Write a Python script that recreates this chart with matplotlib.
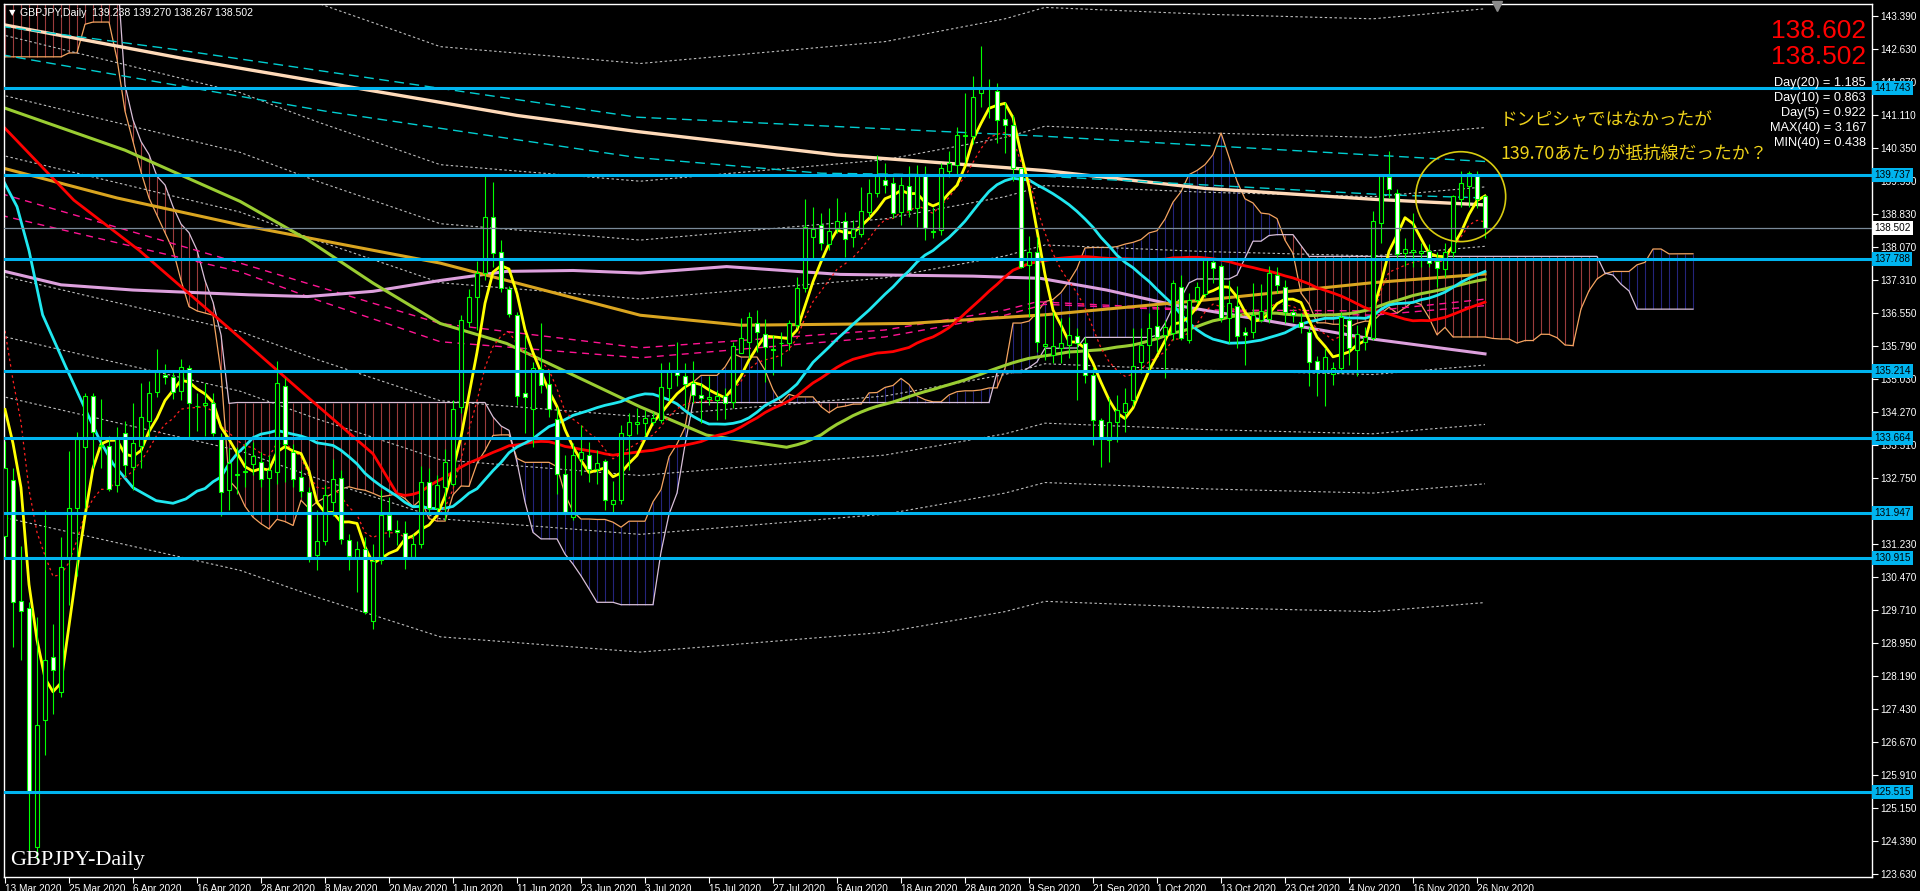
import numpy as np
import pandas as pd
import matplotlib
matplotlib.use("Agg")
import matplotlib.pyplot as plt
from matplotlib.patches import Ellipse

# ---- daily candles, 13 Mar 2020 .. 27 Nov 2020 ----
opens = [131.42, 132.71, 129.92, 129.75, 124.25, 127.17, 128.62, 127.83, 130.91, 132.07,
         133.47, 134.64, 133.52, 133.49, 132.60, 133.78, 133.01, 133.50, 134.06, 134.73,
         135.12, 135.07, 134.75, 135.29, 134.40, 134.43, 134.47, 133.69, 132.48, 132.82,
         132.88, 133.07, 133.12, 132.76, 132.89, 134.88, 133.35, 132.78, 132.43, 130.97,
         131.30, 132.20, 132.75, 131.33, 130.93, 131.12, 129.45, 130.87, 131.91, 131.55,
         131.49, 130.93, 131.24, 132.65, 132.05, 132.55, 132.62, 134.39, 136.35, 136.91,
         137.48, 138.77, 137.95, 137.10, 136.51, 134.70, 134.33, 135.26, 134.91, 134.12,
         132.85, 131.85, 133.20, 133.28, 132.95, 133.15, 132.15, 132.24, 133.75, 134.00,
         134.01, 134.03, 134.09, 134.82, 135.22, 135.09, 134.95, 134.66, 134.58, 134.55,
         134.65, 134.51, 135.64, 135.89, 136.33, 136.06, 135.69, 135.85, 135.85, 136.27,
         137.12, 138.31, 138.58, 138.14, 138.49, 138.68, 138.31, 138.37, 138.88, 139.31,
         139.61, 139.55, 138.88, 139.48, 138.96, 139.74, 138.41, 138.46, 139.83, 139.96,
         140.63, 140.63, 141.62, 141.73, 141.66, 141.01, 140.87, 139.88, 137.66, 137.96,
         135.80, 135.58, 135.74, 135.82, 136.02, 135.85, 135.12, 134.09, 133.63, 134.05,
         134.28, 134.55, 135.43, 135.81, 136.25, 136.05, 136.08, 137.16, 135.93, 136.85,
         136.99, 137.73, 137.64, 136.43, 136.71, 136.12, 136.12, 136.38, 136.41, 137.43,
         137.16, 136.58, 136.35, 136.11, 135.45, 135.20, 135.15, 135.28, 136.39, 135.71,
         135.89, 135.97, 138.63, 139.68, 139.32, 137.94, 137.96, 137.93, 137.99, 137.76,
         137.56, 137.95, 139.17, 139.48, 139.73, 139.238]
highs = [133.60, 132.99, 131.18, 129.90, 129.56, 132.02, 129.40, 131.40, 133.38, 133.81,
         134.70, 134.70, 134.56, 133.71, 133.93, 134.06, 134.49, 134.93, 134.98, 135.72,
         135.38, 135.19, 135.49, 135.35, 134.70, 134.93, 134.70, 133.78, 133.45, 133.47,
         133.55, 133.58, 133.35, 133.28, 135.45, 135.05, 133.54, 132.93, 132.55, 132.01,
         132.60, 133.18, 132.93, 131.47, 131.30, 131.39, 131.24, 132.47, 132.32, 131.79,
         131.77, 131.47, 133.02, 132.99, 132.82, 133.43, 134.55, 136.51, 137.10, 137.75,
         139.70, 139.57, 138.24, 137.18, 136.57, 136.05, 135.43, 136.33, 135.20, 134.39,
         133.28, 133.55, 133.97, 133.58, 133.39, 133.20, 132.68, 133.97, 134.24, 134.36,
         134.32, 134.28, 135.39, 135.42, 135.89, 135.39, 135.45, 134.93, 135.09, 134.78,
         134.82, 135.89, 136.43, 136.58, 136.62, 136.41, 136.05, 136.12, 136.39, 137.39,
         139.17, 139.00, 138.86, 138.98, 139.21, 138.88, 138.69, 139.45, 139.63, 140.19,
         140.00, 139.69, 139.69, 139.94, 139.96, 139.94, 139.00, 140.00, 140.29, 140.83,
         141.61, 142.01, 142.70, 141.93, 141.84, 141.42, 141.11, 139.90, 138.32, 138.31,
         136.54, 136.58, 136.43, 136.45, 136.20, 135.99, 135.31, 134.13, 134.61, 134.66,
         134.82, 136.20, 136.20, 136.54, 136.73, 136.39, 137.31, 137.43, 137.01, 137.27,
         137.79, 137.82, 137.68, 137.30, 137.17, 136.24, 137.24, 137.22, 137.63, 137.62,
         137.31, 136.64, 136.54, 136.22, 135.55, 135.74, 135.43, 136.58, 136.43, 136.27,
         136.24, 138.89, 139.73, 140.27, 139.40, 138.27, 138.85, 138.17, 138.14, 137.96,
         138.16, 139.27, 139.82, 139.83, 139.83, 139.270]
lows = [130.90, 128.87, 128.55, 124.00, 123.95, 126.37, 127.32, 127.71, 129.82, 130.49,
        132.07, 132.99, 132.99, 132.45, 132.43, 132.80, 132.48, 132.99, 133.64, 134.61,
        134.92, 134.56, 134.55, 133.64, 133.84, 133.73, 133.73, 131.88, 132.02, 132.39,
        132.55, 132.82, 132.55, 131.93, 132.62, 132.66, 132.55, 132.32, 130.82, 130.64,
        131.22, 131.87, 131.24, 130.64, 130.12, 129.62, 129.28, 130.78, 131.39, 131.20,
        130.66, 130.89, 131.15, 131.89, 131.93, 131.78, 132.56, 134.24, 136.24, 136.16,
        137.31, 137.62, 137.04, 136.45, 134.43, 133.78, 133.47, 134.70, 134.16, 132.39,
        131.93, 131.79, 132.82, 132.66, 132.62, 132.01, 131.97, 132.15, 132.93, 133.77,
        133.71, 133.97, 134.01, 134.55, 134.86, 134.36, 134.47, 134.01, 134.43, 134.09,
        134.10, 134.36, 135.62, 135.51, 135.66, 134.97, 135.12, 135.32, 135.70, 136.20,
        137.04, 137.81, 138.00, 138.00, 138.39, 137.85, 138.08, 138.31, 138.77, 139.23,
        139.31, 138.73, 138.58, 138.77, 138.54, 138.23, 138.27, 138.35, 139.68, 139.71,
        140.00, 140.44, 141.30, 141.03, 140.46, 140.23, 139.58, 137.58, 136.47, 135.66,
        135.47, 135.39, 135.39, 135.51, 134.55, 134.93, 133.51, 133.01, 133.13, 133.59,
        133.82, 134.41, 135.16, 135.24, 135.66, 135.05, 135.93, 135.93, 135.85, 136.77,
        136.93, 137.24, 136.35, 135.85, 135.74, 135.35, 135.97, 136.35, 136.33, 137.02,
        136.33, 136.35, 136.08, 134.86, 134.63, 134.40, 134.89, 135.16, 135.36, 135.09,
        135.70, 135.93, 138.16, 139.19, 137.77, 137.64, 137.62, 137.62, 137.62, 137.16,
        137.39, 137.85, 139.00, 139.00, 138.98, 138.267]
closes = [132.99, 129.89, 129.68, 125.51, 127.06, 128.56, 128.34, 130.70, 132.07, 133.66,
          134.64, 133.81, 133.48, 132.51, 133.67, 133.04, 133.55, 134.15, 134.70, 135.21,
          135.07, 134.73, 135.31, 134.49, 134.42, 134.49, 133.78, 132.43, 133.10, 132.85,
          132.91, 133.25, 132.74, 132.93, 134.93, 133.53, 132.74, 132.45, 130.93, 131.30,
          132.37, 132.74, 131.35, 130.95, 131.12, 129.66, 130.85, 131.91, 131.55, 131.50,
          130.91, 131.24, 132.65, 132.05, 132.60, 133.11, 134.35, 136.38, 136.91, 137.47,
          138.77, 137.93, 137.12, 136.53, 134.64, 134.62, 135.28, 134.89, 134.35, 132.85,
          131.97, 133.28, 133.35, 132.95, 133.10, 132.25, 132.25, 133.79, 134.05, 134.03,
          134.13, 134.14, 134.84, 135.22, 135.12, 134.92, 134.66, 134.59, 134.61, 134.65,
          134.49, 135.78, 135.97, 136.45, 136.12, 135.76, 135.72, 135.87, 136.33, 137.12,
          138.54, 138.49, 138.16, 138.43, 138.68, 138.25, 138.48, 138.91, 139.31, 139.71,
          139.50, 138.86, 139.50, 138.92, 139.74, 138.50, 138.43, 139.88, 140.00, 140.65,
          140.65, 141.52, 141.76, 141.74, 141.00, 140.88, 139.88, 137.62, 137.96, 135.89,
          135.83, 135.80, 135.87, 136.05, 135.85, 135.12, 134.09, 133.67, 134.05, 134.32,
          134.47, 135.32, 135.81, 136.21, 135.99, 136.24, 137.25, 135.97, 136.85, 137.14,
          137.79, 137.58, 136.43, 136.79, 136.02, 136.05, 136.51, 136.60, 137.47, 137.19,
          136.58, 136.51, 136.22, 135.43, 135.24, 135.53, 135.29, 136.47, 135.74, 136.06,
          136.01, 138.68, 139.71, 139.40, 137.91, 138.03, 138.00, 137.99, 137.70, 137.58,
          137.96, 139.25, 139.54, 139.78, 139.17, 138.502]

date_labels = ["13 Mar 2020", "25 Mar 2020", "6 Apr 2020", "16 Apr 2020", "28 Apr 2020",
               "8 May 2020", "20 May 2020", "1 Jun 2020", "11 Jun 2020", "23 Jun 2020",
               "3 Jul 2020", "15 Jul 2020", "27 Jul 2020", "6 Aug 2020", "18 Aug 2020",
               "28 Aug 2020", "9 Sep 2020", "21 Sep 2020", "1 Oct 2020", "13 Oct 2020",
               "23 Oct 2020", "4 Nov 2020", "16 Nov 2020", "26 Nov 2020"]

# horizontal support / resistance levels
levels = [141.743, 139.737, 137.788, 135.214, 133.664, 131.947, 130.915, 125.515]
last_price = 138.502

# ---- indicator values read off the chart where the data window is not full ----
# (bar, price) points
yellow_lead = [(0, 134.33), (1, 133.55), (2, 132.53), (3, 130.30)]
dotted_seed = 136.14
cyan_lead = [(-0.5, 139.7), (1.5, 139.0), (3, 137.99), (4.7, 136.51), (7.6, 135.31),
             (9.7, 134.47), (11.8, 133.64), (13.5, 133.08), (16, 132.53), (18.9, 132.23),
             (21, 132.17), (22.6, 132.27)]
red_lead = [(-0.5, 140.9), (8.6, 139.15), (16.8, 137.99), (30.5, 135.8), (37.8, 134.62),
            (46, 133.31)]
ygreen_lead = [(-0.5, 141.3), (15, 140.3), (29.4, 139.12), (37.8, 138.24), (46, 137.24),
               (54.4, 136.31), (62.7, 135.85), (79.4, 134.39), (87.7, 133.74), (97.7, 133.46)]
goldenrod_pts = [(-0.5, 139.9), (14, 139.2), (29.4, 138.58), (54.4, 137.70), (79.4, 136.5),
                 (92, 136.27), (113, 136.31), (130, 136.51), (150, 136.85), (171, 137.25),
                 (185, 137.45)]
plum_pts = [(-0.5, 137.53), (7, 137.2), (16, 137.08), (30.5, 136.97), (37.8, 136.93),
            (46, 137.05), (54.4, 137.30), (62.7, 137.51), (71, 137.53), (79.4, 137.47),
            (90.2, 137.62), (104.4, 137.44), (121, 137.40), (129.4, 137.35), (137.7, 137.08),
            (146, 136.74), (158.5, 136.35), (171, 135.95), (185, 135.61)]
peach_pts = [(-0.5, 143.2), (22, 142.42), (64, 141.1), (79, 140.73), (104, 140.19),
             (130, 139.83), (150, 139.42), (171, 139.17), (185, 139.04)]
cyan_dash_hi = [(-0.5, 143.15), (22, 142.6), (79, 141.06), (130, 140.62), (185, 140.04)]
cyan_dash_lo = [(-0.5, 142.5), (40, 141.2), (79, 140.13), (102, 139.77), (130, 139.7),
                (173, 139.27), (185, 139.2)]
pink_dash_a = [(-0.5, 139.3), (29.4, 137.70), (54.4, 136.31), (79.4, 135.75), (110, 136.16),
               (125, 136.62), (129, 136.81), (150, 136.62), (171, 136.6), (185, 136.87)]
pink_dash_b = [(-0.5, 138.8), (29.4, 137.50), (39, 136.85), (49, 136.23), (54.4, 135.89),
               (79.4, 135.52), (110, 136.0), (125, 136.5), (130, 136.75), (150, 136.6),
               (171, 136.5), (185, 136.72)]
# dotted envelope bands around the lower pink line, in percent
envelope_pct = [1, 2, 3, 5]

# ichimoku spans for the first bars (history before 13 Mar not on chart)
spanA_lead = [142.45] * 8 + [142.54, 142.54, 143.2, 143.25, 143.25, 143.25, 142.4, 141.2,
              140.5, 139.8, 139.2, 138.8, 138.4, 138.0, 137.3, 136.7, 136.6, 136.55, 136.5,
              135.2, 132.7, 132.5, 132.1, 131.85, 131.7, 131.58, 131.8, 131.75, 131.66,
              132.24, 132.05, 132.2, 132.3, 132.4, 132.5, 132.55, 132.5, 132.47, 132.4,
              132.32, 132.35, 132.39, 132.28]
spanB_lead = [144.5] * 15 + [141.8, 141.0, 140.5, 140.2, 139.7, 139.5, 139.0, 138.6, 138.4,
              138.0, 137.3, 136.8, 136.05] + [134.47] + [134.49] * 32 + [
              134.16, 133.95, 133.85, 133.12, 132.2, 131.5, 131.35, 131.35, 131.35, 131.0,
              130.77, 130.5, 130.2, 129.89, 129.89, 129.89]

# ---- derived series ----
H = pd.Series(highs)
L = pd.Series(lows)
C = pd.Series(closes)
n = len(closes)
bars = np.arange(n)

sma5 = C.rolling(5).mean().values
sma25 = C.rolling(25).mean().values
sma50 = C.rolling(50).mean().values
sma100 = C.rolling(100).mean().values
ema10 = [dotted_seed]
for v in closes[1:]:
    ema10.append(ema10[-1] + 2.0 / 11.0 * (v - ema10[-1]))

tenkan = (H.rolling(9).max() + L.rolling(9).min()) / 2
kijun = (H.rolling(26).max() + L.rolling(26).min()) / 2
spanA_calc = ((tenkan + kijun) / 2).values
spanB_calc = ((H.rolling(52).max() + L.rolling(52).min()) / 2).values
cloud_x = np.arange(n + 26)
spanA = np.array(spanA_lead + list(spanA_calc[25:]))
spanB = np.array(spanB_lead + list(spanB_calc[51:]))


def joined(lead, calc, start):
    xs = [p[0] for p in lead] + list(bars[start:])
    ys = [p[1] for p in lead] + list(calc[start:])
    return xs, ys


def pts(p):
    return [a for a, _ in p], [b for _, b in p]


# ---- figure ----
fig = plt.figure(figsize=(19.2, 8.91), dpi=100, facecolor="black")
ax = fig.add_axes([4 / 1920, 14 / 891, 1868 / 1920, 873 / 891], facecolor="black")
ax.set_xlim(-0.125, 233.375)
ax.set_ylim(123.565, 143.666)

# ichimoku cloud
hatch_cols = np.where(spanA > spanB, "#24247a", "#9a3c3c")
ax.vlines(cloud_x, spanA, spanB, colors=hatch_cols, lw=0.8, zorder=1)
ax.plot(cloud_x, spanA, color="#f4a460", lw=0.9, zorder=1.5)
ax.plot(cloud_x, spanB, color="#d8bfd8", lw=0.9, zorder=1.5)

# envelope bands (gray dotted)
ex, ey = pts(pink_dash_b)
ey = np.array(ey)
for k in envelope_pct:
    for sgn in (1, -1):
        ax.plot(ex, ey * (1 + sgn * k / 100.0), color="#bdbdbd", lw=0.8, dashes=(2.2, 2.2),
                zorder=1.8)

# long moving averages
ax.plot(*pts(peach_pts), color="#ffdab9", lw=2.4, zorder=2)
ax.plot(*pts(cyan_dash_hi), color="#00ced1", lw=1, dashes=(7, 4), zorder=2)
ax.plot(*pts(cyan_dash_lo), color="#00ced1", lw=1, dashes=(7, 4), zorder=2)
ax.plot(*pts(pink_dash_a), color="#ff1493", lw=1, dashes=(5, 4), zorder=2)
ax.plot(*pts(pink_dash_b), color="#ff1493", lw=1, dashes=(5, 4), zorder=2)
ax.plot(*pts(plum_pts), color="#dda0dd", lw=2.2, zorder=2.2)
ax.plot(*pts(goldenrod_pts), color="#daa520", lw=2.2, zorder=2.2)
ax.plot(*joined(ygreen_lead, sma100, 99), color="#9acd32", lw=2.2, zorder=2.2)
ax.plot(*joined(red_lead, sma50, 49), color="#ff0000", lw=2.0, zorder=2.3)
ax.plot(*joined(cyan_lead, sma25, 24), color="#20e8f0", lw=2.0, zorder=2.4)
ax.plot(bars, ema10, color="#ff2020", lw=0.9, dashes=(2, 2.5), zorder=2.5)
ax.plot(*joined(yellow_lead, sma5, 4), color="#ffff00", lw=2.0, zorder=2.6)

# candles
o = np.array(opens)
c = np.array(closes)
up = c >= o
ax.vlines(bars, lows, highs, colors="#00ff00", lw=0.8, zorder=3)
body_lo = np.minimum(o, c)
body_h = np.maximum(np.abs(c - o), 0.012)
ax.bar(bars, body_h, bottom=body_lo, width=0.58,
       color=np.where(up, "black", "white"), edgecolor="#00ff00", linewidth=0.8, zorder=4)

# horizontal lines
BLUE = "#00b4ef"
for v in levels:
    ax.axhline(v, color=BLUE, lw=2.2, zorder=5)
    ax.text(1.0013, v, f"{v:.3f}", transform=ax.get_yaxis_transform(), ha="left", va="center",
            fontsize=7.2, family="Liberation Sans", color="black", clip_on=False, zorder=10,
            bbox=dict(boxstyle="square,pad=0.2", fc=BLUE, ec="none"))
ax.axhline(last_price, color="#7a8a99", lw=0.9, zorder=4.5)
ax.text(1.0013, last_price, f"{last_price:.3f}", transform=ax.get_yaxis_transform(),
        ha="left", va="center", fontsize=7.2, family="Liberation Sans", color="black",
        clip_on=False, zorder=10, bbox=dict(boxstyle="square,pad=0.2", fc="white", ec="none"))

# circle around the recent highs
ax.add_patch(Ellipse((181.96, 139.23), 11.25, 2.07, fill=False, ec="#d8cc10", lw=1.2, zorder=6))
ax.plot([186.5], [143.62], marker="v", ms=7, color="#8a8a8a", clip_on=False, zorder=7)

# axes / ticks
for s in ax.spines.values():
    s.set_color("white")
    s.set_linewidth(1)
yt = [143.39 - 0.76 * k for k in range(27)]
# the 131.990 label sits fully under the 131.947 level box
ylab = ["" if abs(v - 131.99) < 0.01 else f"{v:.3f}" for v in yt]
ax.yaxis.tick_right()
ax.set_yticks(yt)
ax.set_yticklabels(ylab)
ax.set_xticks(range(0, 185, 8))
ax.set_xticklabels(date_labels)
ax.tick_params(axis="y", colors="white", length=4, width=0.8, labelsize=7.2, pad=2)
ax.tick_params(axis="x", colors="white", length=4, width=0.8, labelsize=7.2, pad=1)
for lbl in ax.get_xticklabels():
    lbl.set_ha("left")
    lbl.set_family("Liberation Sans")
for lbl in ax.get_yticklabels():
    lbl.set_family("Liberation Sans")


# texts
def fx(x):
    return x / 1920


def fy(y):
    return 1 - y / 891


fig.text(fx(9), fy(13), "\u25bc", color="white", fontsize=6, family="DejaVu Sans", va="center")
fig.text(fx(20), fy(13), "GBPJPY,Daily  139.238 139.270 138.267 138.502", color="white",
         fontsize=7.6, family="Liberation Sans", va="center")
fig.text(fx(10), fy(861), "GBPJPY-Daily", color="white", fontsize=16, family="Liberation Serif",
         va="center")
fig.text(fx(1866), fy(31), "138.602", color="#ff0000", fontsize=19, family="Liberation Sans",
         ha="right", va="center")
fig.text(fx(1866), fy(57), "138.502", color="#ff0000", fontsize=19, family="Liberation Sans",
         ha="right", va="center")
stats = ["Day(20) = 1.185", "Day(10) = 0.863", "Day(5) = 0.922", "MAX(40) = 3.167",
         "MIN(40) = 0.438"]
for i, s in enumerate(stats):
    fig.text(fx(1866), fy(83 + 15 * i), s, color="white", fontsize=9.2,
             family="Liberation Sans", ha="right", va="center")
jp = ["ドンピシャではなかったが", "139.70あたりが抵抗線だったか？"]
fig.text(fx(1500), fy(120), jp[0], color="#eed21a", fontsize=12.8,
         family=["Noto Sans CJK JP", "DejaVu Sans"], va="center")
fig.text(fx(1500), fy(154), jp[1], color="#eed21a", fontsize=12.8,
         family=["Noto Sans CJK JP", "DejaVu Sans"], va="center")

fig.savefig("out.png", dpi=100, facecolor="black")
